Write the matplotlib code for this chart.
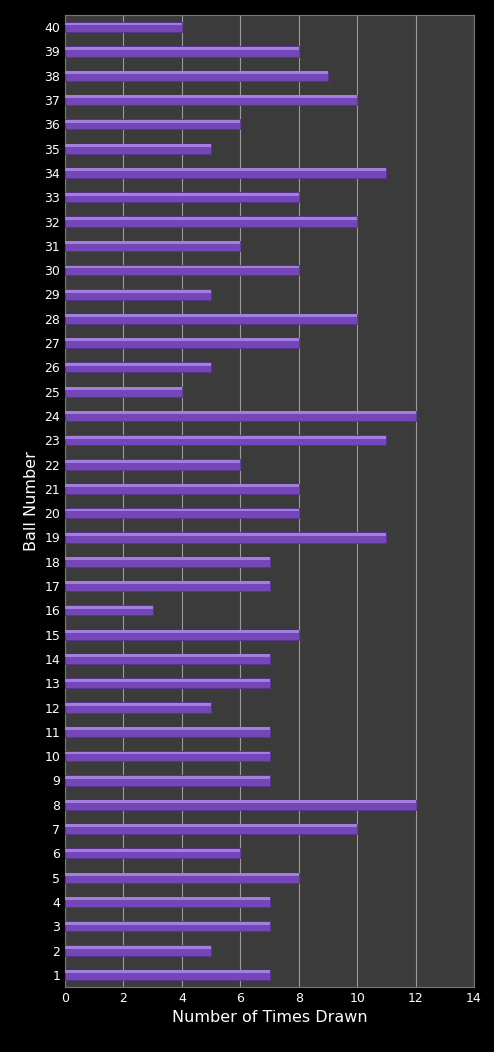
import matplotlib.pyplot as plt

balls = list(range(1, 41))
times_drawn = [7, 5, 7, 7, 8, 6, 10, 12, 7, 7,
               7, 5, 7, 7, 8, 3, 7, 7, 11, 8,
               8, 6, 11, 12, 4, 5, 8, 10, 5, 8,
               6, 10, 8, 11, 5, 6, 10, 9, 8, 4]

fig = plt.figure(figsize=(4.94, 10.52), dpi=100, facecolor='black')
ax = fig.add_axes([65 / 494, 1 - 987 / 1052, 409 / 494, 972 / 1052])
ax.set_facecolor('#3b3b3b')

# main bar plus a lighter strip on top for the bevel look
ax.barh(balls, times_drawn, height=0.42, color='#7446b8', edgecolor='#5a3290', linewidth=0.6, zorder=3)
ax.barh([b + 0.13 for b in balls], times_drawn, height=0.12, color='#a27ee0', linewidth=0, zorder=4)

ax.set_xlim(0, 14)
ax.set_ylim(0.5, 40.5)
ax.set_xticks(range(0, 15, 2))
ax.set_yticks(balls)
ax.grid(axis='x', color='#9a9a9a', linewidth=0.8, zorder=0)
ax.tick_params(colors='white', labelsize=9, length=0)
for s in ax.spines.values():
    s.set_color('#777777')
ax.set_xlabel('Number of Times Drawn', color='white', fontsize=11.5)
ax.set_ylabel('Ball Number', color='white', fontsize=11.5)

fig.savefig('out.png', facecolor='black')
